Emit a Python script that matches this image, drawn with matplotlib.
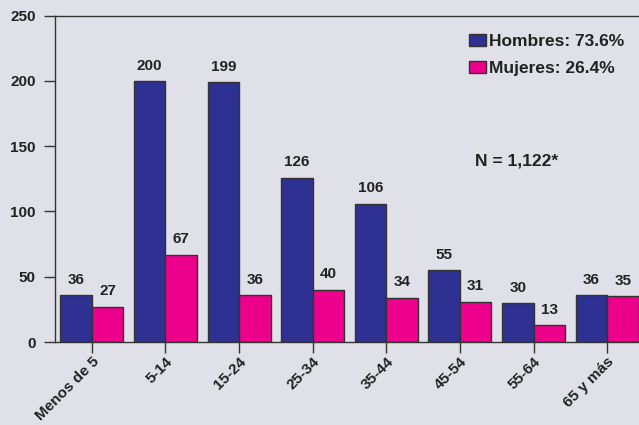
import matplotlib
matplotlib.use("Agg")
import matplotlib.pyplot as plt
import numpy as np
from matplotlib.patches import Patch

categories = ["Menos de 5", "5-14", "15-24", "25-34", "35-44", "45-54", "55-64", "65 y más"]
hombres = [36, 200, 199, 126, 106, 55, 30, 36]
mujeres = [27, 67, 36, 40, 34, 31, 13, 35]
yticks = [0, 50, 100, 150, 200, 250]
legend_labels = ["Hombres: 73.6%", "Mujeres: 26.4%"]
note = "N = 1,122*"

bg = "#e0e0e8"
blue = "#2e3192"
pink = "#ec008c"
edge = "#333333"
txt = "#222222"

plt.rcParams["font.family"] = ["Liberation Sans", "DejaVu Sans"]
plt.rcParams["font.weight"] = "bold"

fig = plt.figure(figsize=(6.39, 4.25), dpi=100, facecolor=bg)
ax = fig.add_axes([55/639, 1-342/425, 589/639, (342-15.7)/425], facecolor=bg)

x = np.arange(len(categories))
w = 0.4275
b1 = ax.bar(x - w/2, hombres, w, color=blue, edgecolor=edge, linewidth=1)
b2 = ax.bar(x + w/2, mujeres, w, color=pink, edgecolor=edge, linewidth=1)

for bars, vals in ((b1, hombres), (b2, mujeres)):
    for r, v in zip(bars, vals):
        ax.annotate(str(v), (r.get_x() + r.get_width()/2, v), xytext=(0, 6),
                    textcoords="offset points", ha="center", va="bottom",
                    fontsize=11, fontweight="bold", color=txt)

ax.set_xlim(-0.5, len(categories) - 0.5)
ax.set_ylim(0, 250)
ax.set_yticks(yticks)
ax.set_yticklabels([str(t) for t in yticks], fontsize=11, fontweight="bold", color=txt)
ax.set_xticks(x)
ax.set_xticklabels(categories, rotation=45, ha="right", va="top", rotation_mode="anchor",
                   fontsize=11, fontweight="bold", color=txt)
ax.tick_params(axis="both", direction="out", length=8, width=1, color=edge)
ax.tick_params(axis="y", pad=6)
ax.tick_params(axis="x", pad=1)
for s in ("left", "bottom", "top"):
    ax.spines[s].set_color(edge)
    ax.spines[s].set_linewidth(1)
ax.spines["right"].set_visible(False)

handles = [Patch(facecolor=blue, edgecolor=edge, linewidth=1),
           Patch(facecolor=pink, edgecolor=edge, linewidth=1)]
leg = fig.legend(handles, legend_labels, loc="upper left", bbox_to_anchor=(469/639, 1-34/425),
                 frameon=False, fontsize=12.5, handlelength=1.0, handleheight=0.7,
                 handletextpad=0.15, labelspacing=0.68, borderaxespad=0, borderpad=0)
for t in leg.get_texts():
    t.set_fontweight("bold")
    t.set_color(txt)

fig.text(475/639, 1-161/425, note, fontsize=12.5, fontweight="bold", color=txt,
         ha="left", va="center")

fig.savefig("out.png", dpi=100, facecolor=bg)
